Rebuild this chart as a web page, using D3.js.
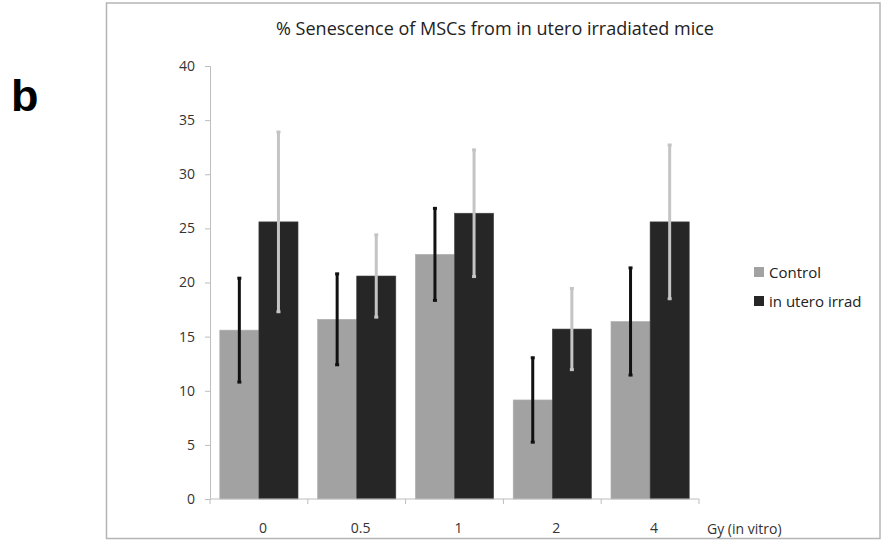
<!DOCTYPE html>
<html>
<head>
<meta charset="utf-8">
<script src="https://cdn.jsdelivr.net/npm/d3@7"></script>
<style>
    body { margin: 0; background: #fff; }
    #chart { width: 882px; height: 540px; }
    text { font-family: "Open Sans", "Noto Sans", sans-serif; }
</style>
</head>
<body>
<div id="chart"></div>
<script>
// Chart data
const categories = ["0", "0.5", "1", "2", "4"];
const seriesNames = ["Control", "in utero irrad"];
const controlValues = [15.6, 16.6, 22.6, 9.15, 16.4];
const irradValues = [25.6, 20.6, 26.4, 15.7, 25.6];
const controlErrors = [4.8, 4.2, 4.25, 3.9, 4.95];
const irradErrors = [8.3, 3.8, 5.85, 3.75, 7.1];
const yTicks = [0, 5, 10, 15, 20, 25, 30, 35, 40];

const width = 882, height = 540;
const margin = { top: 66, left: 210, right: 183, bottom: 41 };
const chartWidth = width - margin.left - margin.right;
const chartHeight = height - margin.top - margin.bottom;

const svg = d3.select("#chart")
    .append("svg")
    .attr("width", width)
    .attr("height", height);

// Outer frame of the chart
svg.append("rect")
    .attr("x", 106.5)
    .attr("y", 3)
    .attr("width", 773.5)
    .attr("height", 535.5)
    .attr("fill", "none")
    .attr("stroke", "#b5b5b5")
    .attr("stroke-width", 1.5);

// Panel letter
svg.append("text")
    .attr("x", 11)
    .attr("y", 111)
    .style("font-family", "'Liberation Sans', Arial, sans-serif")
    .style("font-weight", "bold")
    .style("font-size", "45px")
    .attr("fill", "#000")
    .text("b");

// Title
svg.append("text")
    .attr("x", 495)
    .attr("y", 35)
    .attr("text-anchor", "middle")
    .attr("fill", "#222")
    .style("font-size", "18px")
    .text("% Senescence of MSCs from in utero irradiated mice");

const g = svg.append("g")
    .attr("transform", `translate(${margin.left},${margin.top})`);

const x0 = d3.scaleBand()
    .domain(categories)
    .range([0, chartWidth])
    .paddingInner(0.2)
    .paddingOuter(0.1);

const x1 = d3.scaleBand()
    .domain(seriesNames)
    .range([0, x0.bandwidth()]);

const yScale = d3.scaleLinear()
    .domain([0, 40])
    .range([chartHeight, 0]);

// Y axis
const yAxis = g.append("g")
    .call(d3.axisLeft(yScale).tickValues(yTicks).tickSize(5).tickPadding(10));
yAxis.select(".domain").attr("stroke", "#bdbdbd");
yAxis.selectAll(".tick line").attr("stroke", "#bdbdbd");
yAxis.selectAll("text")
    .attr("fill", "#333")
    .style("font-size", "14px");

const colors = { "Control": "#a2a2a2", "in utero irrad": "#262626" };
const errColors = { "Control": "#111", "in utero irrad": "#c4c4c4" };

const rows = categories.map((c, i) => ({
    cat: c,
    values: [
        { key: "Control", value: controlValues[i], err: controlErrors[i] },
        { key: "in utero irrad", value: irradValues[i], err: irradErrors[i] }
    ]
}));

// Bars
const groups = g.selectAll(".grp")
    .data(rows)
    .enter().append("g")
    .attr("class", "grp")
    .attr("transform", d => `translate(${x0(d.cat)},0)`);

groups.selectAll("rect")
    .data(d => d.values)
    .enter().append("rect")
    .attr("x", d => x1(d.key))
    .attr("y", d => yScale(d.value))
    .attr("width", x1.bandwidth())
    .attr("height", d => chartHeight - yScale(d.value))
    .attr("fill", d => colors[d.key])
    .attr("stroke", d => d.key === "Control" ? "#b0b0b0" : "#444")
    .attr("stroke-width", 0.6);

// Error bars
groups.selectAll(".err")
    .data(d => d.values)
    .enter().append("line")
    .attr("class", "err")
    .attr("x1", d => x1(d.key) + x1.bandwidth() / 2)
    .attr("x2", d => x1(d.key) + x1.bandwidth() / 2)
    .attr("y1", d => yScale(d.value + d.err))
    .attr("y2", d => yScale(d.value - d.err))
    .attr("stroke", d => errColors[d.key])
    .attr("stroke-width", 3);

groups.selectAll(".cap")
    .data(d => d.values.flatMap(v => [
        { key: v.key, y: v.value + v.err },
        { key: v.key, y: v.value - v.err }
    ]))
    .enter().append("rect")
    .attr("class", "cap")
    .attr("x", d => x1(d.key) + x1.bandwidth() / 2 - 2)
    .attr("y", d => yScale(d.y) - 1.5)
    .attr("width", 4)
    .attr("height", 3)
    .attr("fill", d => errColors[d.key]);

// X axis with ticks between categories
const xAxis = g.append("g")
    .attr("transform", `translate(0,${chartHeight})`);
xAxis.append("line")
    .attr("x1", 0)
    .attr("x2", chartWidth)
    .attr("stroke", "#bdbdbd");
const step = x0.step();
xAxis.selectAll(".xtick")
    .data(d3.range(categories.length + 1))
    .enter().append("line")
    .attr("x1", i => i * step)
    .attr("x2", i => i * step)
    .attr("y1", 0)
    .attr("y2", 5)
    .attr("stroke", "#bdbdbd");
xAxis.selectAll(".xlabel")
    .data(categories)
    .enter().append("text")
    .attr("x", d => x0(d) + x0.bandwidth() / 2 + 4)
    .attr("y", 34)
    .attr("text-anchor", "middle")
    .attr("fill", "#333")
    .style("font-size", "14px")
    .text(d => d);

svg.append("text")
    .attr("x", 707)
    .attr("y", 534)
    .attr("fill", "#333")
    .style("font-size", "14px")
    .text("Gy (in vitro)");

// Legend
const legend = svg.append("g")
    .attr("transform", "translate(754,267)");
seriesNames.forEach((name, i) => {
    legend.append("rect")
        .attr("x", 0)
        .attr("y", i * 29)
        .attr("width", 10)
        .attr("height", 10)
        .attr("fill", colors[name]);
    legend.append("text")
        .attr("x", 15)
        .attr("y", i * 29 + 11)
        .attr("fill", "#222")
        .style("font-size", "15px")
        .text(name);
});
</script>
</body>
</html>
